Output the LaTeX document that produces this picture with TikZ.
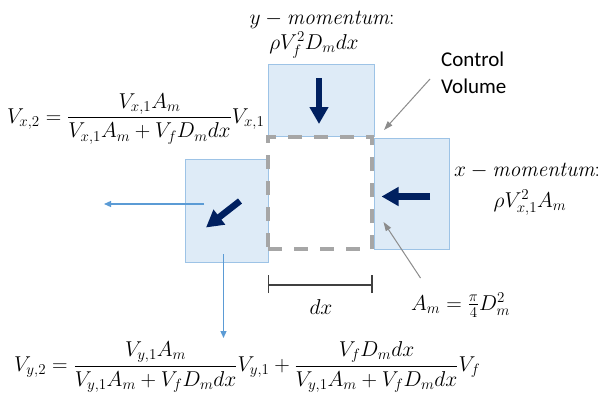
\RequirePackage{fix-cm}
\documentclass[tikz,border=0pt]{standalone}
\usepackage{amsmath}
\usepackage{fontspec}
\newfontfamily\cvfont{Carlito}
\usetikzlibrary{arrows.meta}
\definecolor{boxfill}{HTML}{DEEBF7}
\definecolor{boxdraw}{HTML}{9DC3E6}
\definecolor{navy}{HTML}{002060}
\definecolor{flowblue}{HTML}{5B9BD5}
\definecolor{cvgray}{HTML}{A6A6A6}
\definecolor{pointgray}{HTML}{8C8C8C}
\definecolor{dimgray}{HTML}{404040}
\tikzset{
  flowbox/.style={draw=boxdraw, fill=boxfill, line width=1pt, inner sep=0pt, outer sep=0pt},
  cvbox/.style={draw=cvgray, line width=3.5pt, dash pattern=on 14pt off 12pt, inner sep=0pt, outer sep=0pt},
  bigarrow/.style={draw=navy, line width=6.5pt, -{Triangle[length=17pt,width=18pt]}},
  flowarrow/.style={draw=flowblue, line width=1.2pt, -{Triangle[length=7pt,width=6pt]}},
  pointer/.style={draw=pointgray, line width=1pt, -{Triangle[length=9pt,width=6pt]}},
  eq/.style={inner sep=0pt, font=\fontsize{21.5}{25}\selectfont},
  lab/.style={inner sep=0pt, font=\cvfont\fontsize{21}{27}\selectfont, align=left}
}
\begin{document}
\begin{tikzpicture}[x=1pt,y=-1pt]
\useasboundingbox[fill=white] (0,0) rectangle (606,399);
% boxes
\node[flowbox, minimum width=106pt, minimum height=72pt] (top) at (321,100) {};
\node[flowbox, minimum width=75.5pt, minimum height=111pt] (right) at (411.75,193.5) {};
\node[flowbox, minimum width=83pt, minimum height=103pt] (left) at (226.5,210.5) {};
\node[cvbox, minimum width=104pt, minimum height=112pt] (cv) at (320,193) {};
% big arrows
\coordinate (ta) at (319,78); \coordinate (tb) at (319,124);
\draw[bigarrow] (ta) -- (tb);
\coordinate (ra) at (430,196.5); \coordinate (rb) at (381.5,196.5);
\draw[bigarrow] (ra) -- (rb);
\coordinate (da) at (240,201); \coordinate (db) at (206,227.5);
\draw[bigarrow] (da) -- (db);
% outflow arrows
\coordinate (lo1) at (204,204); \coordinate (lo2) at (104,204);
\draw[flowarrow] (lo1) -- (lo2);
\coordinate (do1) at (223.5,254); \coordinate (do2) at (223.5,338);
\draw[flowarrow] (do1) -- (do2);
% labels
\node[eq] (ymom) at (322,20) {$y-\mathit{momentum}{:}$};
\node[eq] (yflux) at (314,45) {$\rho V_f^2 D_m dx$};
\node[lab, anchor=west] (cvl) at (441,73) {Control\\Volume};
\node[eq, anchor=west] (xmom) at (454,171) {$x-\mathit{momentum}{:}$};
\node[eq] (xflux) at (530,203) {$\rho V_{x,1}^2 A_m$};
\node[eq, anchor=west] (vx2) at (7,119) {$\displaystyle V_{x,2}=\frac{V_{x,1}A_m}{V_{x,1}A_m+V_f D_m dx}V_{x,1}$};
\node[eq, anchor=west] (vy2) at (14,367) {$\displaystyle V_{y,2}=\frac{V_{y,1}A_m}{V_{y,1}A_m+V_f D_m dx}V_{y,1}+\frac{V_f D_m dx}{V_{y,1}A_m+V_f D_m dx}V_f$};
\node[eq, anchor=west] (am) at (411,305) {$A_m=\frac{\pi}{4}D_m^2$};
\node[eq] (dxl) at (321,307) {$dx$};
% pointers
\coordinate (cvp1) at (430,79); \coordinate (cvp2) at (384,130);
\draw[pointer] (cvp1) -- (cvp2);
\coordinate (amp1) at (420.5,278); \coordinate (amp2) at (383.5,222);
\draw[pointer] (amp1) -- (amp2);
% dx dimension
\coordinate (dx1) at (268.5,285); \coordinate (dx2) at (372,285);
\draw[dimgray, line width=1.3pt] (dx1) -- (dx2);
\draw[dimgray, line width=1.3pt] ([yshift=-8pt]dx1) -- ([yshift=10pt]dx1);
\draw[dimgray, line width=1.3pt] ([yshift=-8pt]dx2) -- ([yshift=10pt]dx2);
\end{tikzpicture}
\end{document}
